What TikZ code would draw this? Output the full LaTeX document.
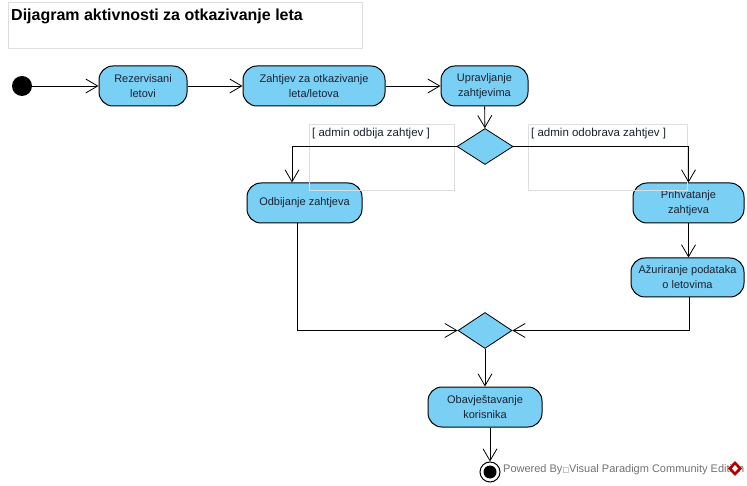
\documentclass[tikz,border=0pt]{standalone}
\usepackage{fontspec}
\setmainfont{Liberation Sans}
\newfontfamily\symfont{DejaVu Sans}
\usetikzlibrary{arrows.meta,shapes.geometric}
\definecolor{actfill}{HTML}{7ACFF5}
\definecolor{framegray}{HTML}{DEDEDE}
\definecolor{inkdark}{HTML}{1A2230}
\tikzset{
  x=1pt,y=-1pt,
  act/.style={draw=black,fill=actfill,line width=1pt,rounded corners=14pt,inner sep=0pt,
    minimum height=40pt,align=center,text=inkdark,font=\fontsize{11pt}{15pt}\selectfont},
  gate/.style={draw=black,fill=actfill,line width=.8pt,diamond,inner sep=0pt,minimum width=#1,minimum height=36pt},
  flow/.style={draw=black,line width=.9pt,-{Straight Barb[length=12pt,width=14pt,line width=.8pt]}},
  frame/.style={draw=framegray,line width=.9pt,fill=none,inner sep=0pt},
  guard/.style={anchor=west,inner sep=0pt,text=inkdark,font=\fontsize{11.5pt}{14pt}\selectfont},
}
\begin{document}
\begin{tikzpicture}
\useasboundingbox (0,0) rectangle (747,486);
\fill[white] (0,0) rectangle (747,486);
\node[frame,minimum width=354pt,minimum height=46pt] (titlebox) at (185,25) {};
\node[anchor=west,inner sep=0pt,font=\bfseries\fontsize{16pt}{18pt}\selectfont] (title) at (11,16) {Dijagram aktivnosti za otkazivanje leta};

\node[circle,fill=black,minimum size=20pt,inner sep=0pt] (start) at (22,86) {};
\node[act,minimum width=88pt] (rez) at (143,86) {Rezervisani\\letovi};
\node[act,minimum width=142pt] (zah) at (314,86) {Zahtjev za otkazivanje\\leta/letova};
\node[act,minimum width=87pt] (upr) at (484.5,86) {Upravljanje\\zahtjevima};
\node[gate=56pt] (d1) at (485,146.5) {};
\node[act,minimum width=115pt] (odb) at (304.5,203) {Odbijanje zahtjeva};
\node[act,minimum width=111pt] (pri) at (688.5,203) {Prihvatanje\\zahtjeva};
\node[act,minimum width=113pt,minimum height=39pt] (azu) at (687.5,277.5) {Ažuriranje podataka\\o letovima};
\node[gate=54pt] (d2) at (485,330.5) {};
\node[act,minimum width=114pt] (oba) at (485,407) {Obavještavanje\\korisnika};
\node[circle,draw=black,fill=white,line width=1pt,minimum size=20pt,inner sep=0pt] (endo) at (490,472) {};
\node[circle,fill=black,minimum size=13pt,inner sep=0pt] (endi) at (490,472) {};

\node[frame,minimum width=145pt,minimum height=66pt] (g1box) at (381.5,157) {};
\node[frame,minimum width=159pt,minimum height=66pt] (g2box) at (607.5,157) {};
\node[guard] (g1) at (312,134) {[ admin odbija zahtjev ]};
\node[guard] (g2) at (531,134) {[ admin odobrava zahtjev ]};

\draw[flow] (start) -- (rez);
\draw[flow] (rez) -- (zah);
\draw[flow] (zah) -- (upr);
\draw[flow] (upr) -- (d1);
\draw[flow] (d1.west) -| ([xshift=-12.5pt]odb.north);
\draw[flow] (d1.east) -| (pri.north);
\draw[flow] (pri) -- (pri |- azu.north);
\draw[flow] ([xshift=2pt]azu.south) |- (d2.east);
\draw[flow] ([xshift=-7.5pt]odb.south) |- (d2.west);
\draw[flow] (d2) -- (oba);
\draw[flow] ([xshift=5pt]oba.south) -- (endo);

\node[anchor=west,inner sep=0pt,text=black!55,font=\fontsize{11pt}{13pt}\selectfont] (pw) at (503,469.5) {Powered By{\symfont\fontsize{7pt}{9pt}\selectfont□}Visual Paradigm Community Edition};
\fill[red!70!black] (735,461) -- (742,468.5) -- (735,476) -- (728,468.5) -- cycle;
\fill[white] (735,465) -- (738,468.5) -- (735,472) -- (732,468.5) -- cycle;
\end{tikzpicture}
\end{document}
